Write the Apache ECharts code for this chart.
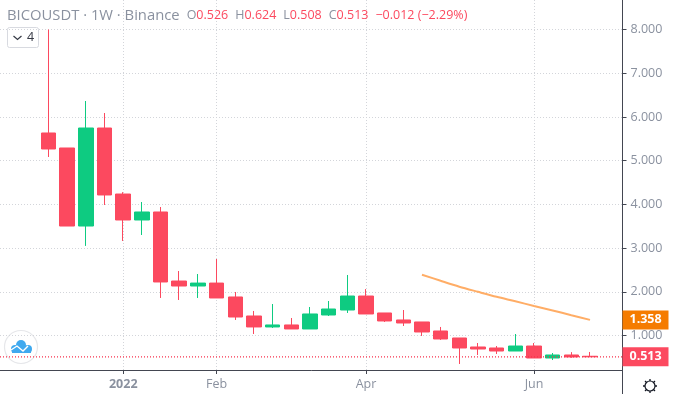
<!DOCTYPE html>
<html><head><meta charset="utf-8">
<style>html,body{margin:0;padding:0;background:#fff}#c{width:673px;height:394px}</style>
<script src="https://cdn.jsdelivr.net/npm/echarts@6/dist/echarts.min.js"></script>
</head><body><div id="c"></div>
<script>
const opens  = [5.633,5.29,3.505,5.747,4.237,3.643,3.826,2.247,2.133,2.2,1.882,1.447,1.196,1.242,1.15,1.47,1.584,1.904,1.516,1.356,1.31,1.104,0.944,0.738,0.715,0.646,0.76,0.486,0.555,0.526];
const closes = [5.267,3.505,5.747,4.215,3.643,3.826,2.225,2.133,2.2,1.859,1.424,1.196,1.242,1.15,1.493,1.607,1.904,1.493,1.333,1.287,1.081,0.921,0.715,0.692,0.646,0.76,0.486,0.555,0.51,0.513];
const lows   = [5.084,3.505,3.05,3.986,3.163,3.30,1.859,1.813,1.859,1.859,1.356,1.035,1.173,1.15,1.15,1.447,1.516,1.493,1.31,1.218,0.99,0.899,0.349,0.555,0.578,0.646,0.486,0.44,0.49,0.508];
const highs  = [8.0,5.29,6.365,6.09,4.28,4.054,3.94,2.476,2.407,2.75,1.996,1.562,1.721,1.401,1.653,1.79,2.385,2.063,1.516,1.584,1.31,1.196,0.944,0.829,0.76,1.035,0.829,0.6,0.62,0.624];
const maStart = 20;
const maValues = [2.392,2.252,2.117,2.0,1.886,1.783,1.676,1.573,1.465,1.358];
const yTicks = [1,2,3,4,5,6,7,8];
const xTickWeeks = [4,9,17,26];
const xTickLabels = ['2022','Feb','Apr','Jun'];
const lastPrice = 0.513, lastMA = 1.358;
const xMin = -2.6, xMax = 30.74;

const UP='#0ecb81', DOWN='#fc495f', GREY='#8a919f', AXIS='#434651', GRID='#d3d5da';
const FONT='"Open Sans", Roboto, sans-serif';

const candles = opens.map((o,i)=>[i,o,closes[i],lows[i],highs[i]]);
const maData = maValues.map((v,i)=>[maStart+i,v]);
const priceBadge = (v,bg)=>({show:true,position:'right',distance:0,formatter:v.toFixed(3),backgroundColor:bg,color:'#fff',
  fontFamily:FONT,fontSize:12.5,fontWeight:'bold',padding:[3,5,3,7],width:34});

const chart = echarts.init(document.getElementById('c'),null,{renderer:'canvas'});
chart.setOption({
  animation:false,
  backgroundColor:'#fff',
  title:{left:2,top:3,text:'{t|BICOUSDT · 1W · Binance}{o|O}{r|0.526}{g|H}{r|0.624}{g|L}{r|0.508}{g|C}{r|0.513}{d|−0.012 (−2.29%)}',
    textStyle:{fontWeight:'normal',rich:{
      t:{fontFamily:FONT,fontSize:14.8,color:GREY,fontWeight:'normal'},
      o:{fontFamily:FONT,fontSize:12.5,color:GREY,fontWeight:'normal',padding:[0,0,0,7]},
      g:{fontFamily:FONT,fontSize:12.5,color:GREY,fontWeight:'normal',padding:[0,0,0,7]},
      r:{fontFamily:FONT,fontSize:12.5,color:DOWN,fontWeight:'normal'},
      d:{fontFamily:FONT,fontSize:12.5,color:DOWN,fontWeight:'normal',padding:[0,0,0,7]}
    }}},
  grid:{left:0,right:50.5,top:0,bottom:24,containLabel:false},
  xAxis:{type:'value',
    min:xMin,max:xMax,
    axisLine:{onZero:false,lineStyle:{color:AXIS,width:1}},
    axisTick:{show:true,length:4,lineStyle:{color:AXIS},customValues:xTickWeeks},
    splitLine:{show:true,lineStyle:{color:GRID,type:[1,2]}},
    axisLabel:{customValues:xTickWeeks,margin:8,color:GREY,fontFamily:FONT,fontSize:12.5,
      formatter:v=>{const i=xTickWeeks.indexOf(+v);const s=i<0?'':xTickLabels[i];return i===0?'{b|'+s+'}':s;},
      rich:{b:{fontFamily:FONT,fontSize:12.5,fontWeight:'bold',color:GREY}}}},
  yAxis:{type:'value',position:'right',min:0.2117,max:8.675,
    axisLine:{show:true,onZero:false,lineStyle:{color:AXIS,width:1}},
    axisTick:{show:true,length:4,lineStyle:{color:AXIS},customValues:yTicks},
    splitLine:{show:true,lineStyle:{color:GRID,type:[1,2]}},
    axisLabel:{customValues:yTicks,margin:8,color:GREY,fontFamily:FONT,fontSize:12.5,formatter:v=>(+v).toFixed(3)}},
  series:[
    {type:'candlestick',barWidth:15,encode:{x:0,y:[1,2,3,4]},data:candles,clip:false,z:3,
     itemStyle:{color:UP,color0:DOWN,borderColor:UP,borderColor0:DOWN,borderWidth:1}},
    {type:'line',data:[[xMin,lastPrice],[xMax,lastPrice]],showSymbol:false,z:5,clip:false,
     lineStyle:{color:'#f7304c',type:[1,2],width:1.2},
     endLabel:priceBadge(lastPrice,DOWN)},
    {type:'line',data:maData,showSymbol:false,smooth:0.3,z:4,
     lineStyle:{color:'#ffad66',width:2}},
    {type:'line',data:[[xMax,lastMA]],showSymbol:false,z:4,clip:false,
     lineStyle:{width:0},
     endLabel:priceBadge(lastMA,'#f57c00')}
  ],
  graphic:[
    {type:'line',shape:{x1:622.5,y1:370,x2:622.5,y2:394},style:{stroke:AXIS,lineWidth:1}},
    {type:'rect',shape:{x:7.5,y:27.5,width:31,height:20,r:2},style:{fill:'#fff',stroke:'#d8dae0',lineWidth:1}},
    {type:'polyline',shape:{points:[[13.5,36],[17.5,39.5],[21.5,36]]},style:{stroke:'#363a45',fill:null,lineWidth:1.2}},
    {type:'text',x:27,y:31,style:{text:'4',fill:'#363a45',font:'12.5px '+FONT}},
    {type:'circle',shape:{cx:21,cy:347,r:16.5},style:{fill:'#fff',stroke:'#e6e7ea',lineWidth:1.2}},
    {type:'circle',shape:{cx:21,cy:345,r:5},style:{fill:'#3fa9ef'}},
    {type:'circle',shape:{cx:15,cy:349,r:4},style:{fill:'#3fa9ef'}},
    {type:'circle',shape:{cx:28,cy:349,r:4},style:{fill:'#3fa9ef'}},
    {type:'rect',shape:{x:12,y:348,width:19,height:5},style:{fill:'#3fa9ef'}},
    {type:'polyline',shape:{points:[[11,350],[17,346],[23,351],[28,346]]},style:{stroke:'#fff',fill:null,lineWidth:1.4}},
    {type:'circle',shape:{cx:650,cy:386,r:5},style:{fill:'#fff',stroke:'#131722',lineWidth:1.2}},
    {type:'line',shape:{x1:650,y1:379,x2:650,y2:381},style:{stroke:'#131722',lineWidth:1.3}},
    {type:'line',shape:{x1:650,y1:391,x2:650,y2:393},style:{stroke:'#131722',lineWidth:1.3}},
    {type:'line',shape:{x1:643,y1:386,x2:645,y2:386},style:{stroke:'#131722',lineWidth:1.3}},
    {type:'line',shape:{x1:655,y1:386,x2:657,y2:386},style:{stroke:'#131722',lineWidth:1.3}},
    {type:'line',shape:{x1:645,y1:381,x2:646.5,y2:382.5},style:{stroke:'#131722',lineWidth:1.2}},
    {type:'line',shape:{x1:655,y1:381,x2:653.5,y2:382.5},style:{stroke:'#131722',lineWidth:1.2}},
    {type:'line',shape:{x1:645,y1:391,x2:646.5,y2:389.5},style:{stroke:'#131722',lineWidth:1.2}},
    {type:'line',shape:{x1:655,y1:391,x2:653.5,y2:389.5},style:{stroke:'#131722',lineWidth:1.2}}
  ]
});
</script></body></html>
